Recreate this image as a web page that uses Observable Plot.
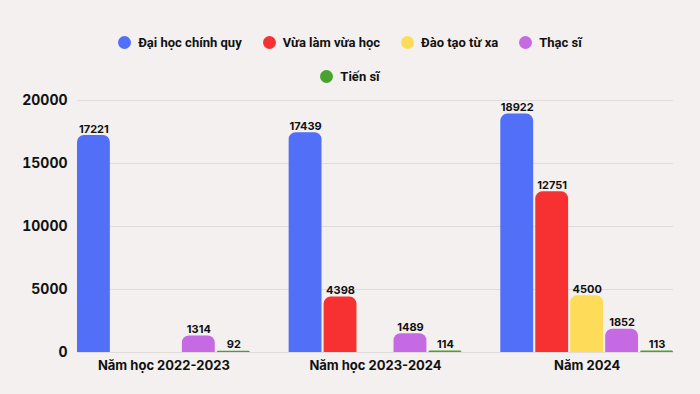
<!DOCTYPE html>
<html>
<head>
<meta charset="utf-8">
<script src="https://cdn.jsdelivr.net/npm/d3@7"></script>
<script src="https://cdn.jsdelivr.net/npm/@observablehq/plot@0.6"></script>
<style>
  html, body { margin: 0; padding: 0; background: #f3f0ef; }
  body { width: 700px; height: 394px; overflow: hidden; font-family: Inter, "Noto Sans", sans-serif; }
  #legend { width: 700px; height: 90px; box-sizing: border-box; padding-top: 32px; }
  .lrow { display: flex; justify-content: center; column-gap: 21px; height: 20px; margin-bottom: 14px; }
  .item { display: flex; align-items: center; font-family: Roboto, sans-serif; font-size: 13px; font-weight: 700; color: #111; height: 20px; }
  .dot { width: 13px; height: 13px; border-radius: 50%; margin-right: 7px; }
  #chart { position: relative; width: 700px; height: 304px; }
  #chart svg { position: absolute; left: 0; top: 0; }
</style>
</head>
<body>
<div id="legend"></div>
<div id="chart"></div>
<script>
const groups = ["Năm học 2022-2023", "Năm học 2023-2024", "Năm 2024"];
const series = ["Đại học chính quy", "Vừa làm vừa học", "Đào tạo từ xa", "Thạc sĩ", "Tiến sĩ"];
const colors = ["#5170f7", "#f73132", "#ffdb5a", "#c56ae2", "#49a22d"];
const daiHocChinhQuy = [17221, 17439, 18922];
const vuaLamVuaHoc = [null, 4398, 12751];
const daoTaoTuXa = [null, null, 4500];
const thacSi = [1314, 1489, 1852];
const tienSi = [92, 114, 113];
const yTicks = [0, 5000, 10000, 15000, 20000];

const valuesBySeries = [daiHocChinhQuy, vuaLamVuaHoc, daoTaoTuXa, thacSi, tienSi];
const rows = [];
groups.forEach((g, gi) => {
  series.forEach((s, si) => {
    const v = valuesBySeries[si][gi];
    if (v != null) rows.push({group: g, series: s, value: v});
  });
});

// Legend (two centered rows: 4 items, then 1)
const legend = document.getElementById("legend");
[[0, 4], [4, 5]].forEach(([a, b]) => {
  const row = document.createElement("div");
  row.className = "lrow";
  for (let i = a; i < b; i++) {
    const it = document.createElement("div");
    it.className = "item";
    const dot = document.createElement("span");
    dot.className = "dot";
    dot.style.background = colors[i];
    it.appendChild(dot);
    it.appendChild(document.createTextNode(series[i]));
    row.appendChild(it);
  }
  legend.appendChild(row);
});

const common = {
  width: 700,
  height: 304,
  marginTop: 10,
  marginBottom: 42,
  marginLeft: 77,
  marginRight: 27,
  style: {background: "transparent", fontFamily: "Inter, 'Noto Sans', sans-serif", color: "#111"}
};

// Background: continuous gridlines and y-axis labels
const grid = Plot.plot({
  ...common,
  y: {domain: [0, 20000]},
  marks: [
    Plot.ruleY(yTicks, {stroke: "#e0dcda", strokeWidth: 1}),
    Plot.axisY({ticks: yTicks, tickSize: 0, tickPadding: 10, fontSize: 14, fontWeight: 700, label: null, tickFormat: d => String(d)})
  ]
});

// Foreground: grouped bars
const bars = Plot.plot({
  ...common,
  fx: {domain: groups, paddingInner: 0.184, paddingOuter: 0, round: false, label: null},
  x: {domain: series, paddingInner: 0.06, paddingOuter: 0, round: false, axis: null},
  y: {domain: [0, 20000], axis: null},
  color: {domain: series, range: colors},
  marks: [
    Plot.barY(rows, {fx: "group", x: "series", y: "value", fill: "series", ry1: 7}),
    Plot.text(rows, {fx: "group", x: "series", y: "value", text: d => String(d.value), dy: -6.5, fontSize: 11, fontWeight: 700, fill: "#111"}),
    Plot.axisFx({anchor: "bottom", tickSize: 0, tickPadding: 8, fontSize: 13, fontWeight: 700, label: null})
  ]
});

const chart = document.getElementById("chart");
chart.appendChild(grid);
chart.appendChild(bars);
</script>
</body>
</html>
